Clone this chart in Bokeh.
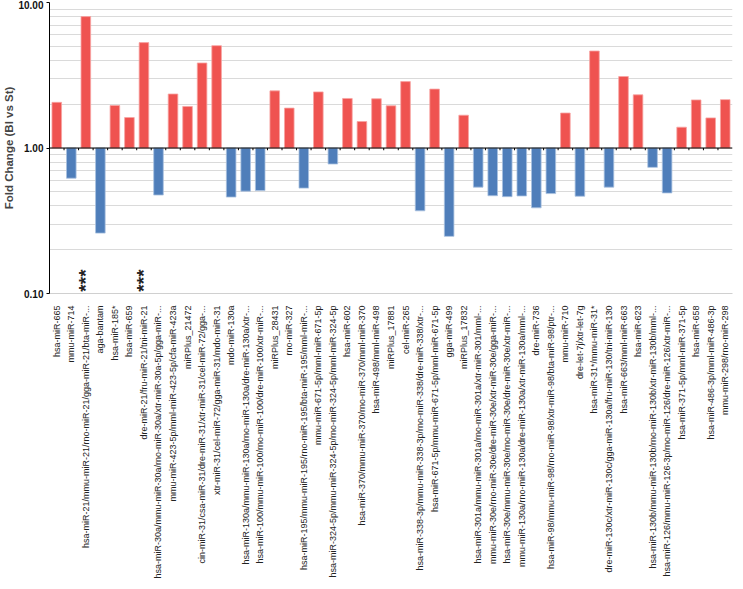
from math import pi
from bokeh.plotting import figure
from bokeh.models import FactorRange, FixedTicker, PrintfTickFormatter, ColumnDataSource, Span
from bokeh.transform import dodge
from bokeh.core.properties import value
from bokeh.embed import file_html
from bokeh.resources import INLINE

mirnas = [
    "hsa-miR-665",
    "mmu-miR-714",
    "hsa-miR-21/mmu-miR-21/rno-miR-21/gga-miR-21/bta-miR-...",
    "aga-bantam",
    "hsa-miR-185*",
    "hsa-miR-659",
    "dre-miR-21/fru-miR-21/tni-miR-21",
    "hsa-miR-30a/mmu-miR-30a/rno-miR-30a/xtr-miR-30a-5p/gga-miR-...",
    "mmu-miR-423-5p/mml-miR-423-5p/cfa-miR-423a",
    "miRPlus_21472",
    "cin-miR-31/csa-miR-31/dre-miR-31/xtr-miR-31/cel-miR-72/gga-...",
    "xtr-miR-31/cel-miR-72/gga-miR-31/mdo-miR-31",
    "mdo-miR-130a",
    "hsa-miR-130a/mmu-miR-130a/rno-miR-130a/dre-miR-130a/xtr-...",
    "hsa-miR-100/mmu-miR-100/rno-miR-100/dre-miR-100/xtr-miR-...",
    "miRPlus_28431",
    "rno-miR-327",
    "hsa-miR-195/mmu-miR-195/rno-miR-195/bta-miR-195/mml-miR-...",
    "mmu-miR-671-5p/mml-miR-671-5p",
    "hsa-miR-324-5p/mmu-miR-324-5p/rno-miR-324-5p/mml-miR-324-5p",
    "hsa-miR-602",
    "hsa-miR-370/mmu-miR-370/rno-miR-370/mml-miR-370",
    "hsa-miR-498/mml-miR-498",
    "miRPlus_17881",
    "cel-miR-265",
    "hsa-miR-338-3p/mmu-miR-338-3p/rno-miR-338/dre-miR-338/xtr-...",
    "hsa-miR-671-5p/mmu-miR-671-5p/mml-miR-671-5p",
    "gga-miR-499",
    "miRPlus_17832",
    "hsa-miR-301a/mmu-miR-301a/rno-miR-301a/xtr-miR-301/mml-...",
    "mmu-miR-30e/rno-miR-30e/dre-miR-30e/xtr-miR-30e/gga-miR-...",
    "hsa-miR-30e/mmu-miR-30e/rno-miR-30e/dre-miR-30e/xtr-miR-...",
    "mmu-miR-130a/rno-miR-130a/dre-miR-130a/xtr-miR-130a/mml-...",
    "dre-miR-736",
    "hsa-miR-98/mmu-miR-98/rno-miR-98/xtr-miR-98/bta-miR-98/ptr-...",
    "mmu-miR-710",
    "dre-let-7j/xtr-let-7g",
    "hsa-miR-31*/mmu-miR-31*",
    "dre-miR-130c/xtr-miR-130c/gga-miR-130a/fru-miR-130/tni-miR-130",
    "hsa-miR-663/mml-miR-663",
    "hsa-miR-623",
    "hsa-miR-130b/mmu-miR-130b/rno-miR-130b/xtr-miR-130b/mml-...",
    "hsa-miR-126/mmu-miR-126-3p/rno-miR-126/dre-miR-126/xtr-miR-...",
    "hsa-miR-371-5p/mml-miR-371-5p",
    "hsa-miR-658",
    "hsa-miR-486-3p/mml-miR-486-3p",
    "mmu-miR-298/rno-miR-298",
]

fold_change = [
    2.06, 0.62, 8.0, 0.26, 1.96, 1.62, 5.3, 0.475, 2.35, 1.93,
    3.84, 5.05, 0.46, 0.505, 0.51, 2.47, 1.88, 0.53, 2.43, 0.776,
    2.19, 1.52, 2.18, 1.95, 2.86, 0.37, 2.54, 0.247, 1.68, 0.538,
    0.47, 0.463, 0.468, 0.388, 0.486, 1.74, 0.466, 4.64, 0.538, 3.10,
    2.32, 0.736, 0.491, 1.39, 2.14, 1.61, 2.15,
]

star_labels = ["", "", "***", "", "", "", "***"] + [""] * 40

y_ticks = [0.1, 1, 10]
y_minor = [0.2, 0.3, 0.4, 0.5, 0.6, 0.7, 0.8, 0.9, 2, 3, 4, 5, 6, 7, 8, 9]

UP = "#EF5350"
DOWN = "#4F7EBA"
colors = [UP if v >= 1 else DOWN for v in fold_change]
lines = ["#F7A3A1" if v >= 1 else "#A9C2E0" for v in fold_change]

src = ColumnDataSource(dict(x=mirnas, top=fold_change, color=colors, lc=lines))

p = figure(
    x_range=FactorRange(*mirnas, range_padding=0),
    y_range=(0.1, 10),
    y_axis_type="log",
    width=735, height=581,
    output_backend="svg", toolbar_location=None,
    min_border_left=30, min_border_right=3, min_border_top=2, min_border_bottom=10,
)
p.outline_line_color = None
p.background_fill_color = "white"

# grid
p.xgrid.grid_line_color = None
p.ygrid.grid_line_color = "#DADADA"
p.ygrid.minor_grid_line_color = "#DADADA"
p.yaxis.ticker = FixedTicker(ticks=y_ticks, minor_ticks=y_minor)

p.vbar(x="x", top="top", bottom=1, width=0.66, source=src,
       fill_color="color", line_color="lc", line_width=0.8)

# baseline at 1 with tick marks between categories
p.add_layout(Span(location=1, dimension="width", line_color="black", line_width=1.2))
bsrc = ColumnDataSource(dict(x=mirnas[:-1]))
p.segment(x0=dodge("x", 0.5, range=p.x_range), y0=1,
          x1=dodge("x", 0.5, range=p.x_range), y1=0.965,
          source=bsrc, line_color="black", line_width=1)

# significance stars
ssrc = ColumnDataSource(dict(x=mirnas, t=star_labels))
p.text(x="x", y=0.103, text="t", source=ssrc, angle=pi / 2,
       text_align="left", text_baseline="middle",
       text_font=value("Liberation Sans"), text_font_style="bold",
       text_font_size="19px", text_color="#222222")

# y axis
p.yaxis.formatter = PrintfTickFormatter(format="%.2f")
p.yaxis.axis_label = "Fold Change (Bl vs St)"
p.yaxis.axis_label_text_font = "Liberation Sans"
p.yaxis.axis_label_text_font_style = "bold"
p.yaxis.axis_label_text_font_size = "11.5px"
p.yaxis.axis_label_standoff = 0
p.yaxis.major_label_text_font = "Liberation Sans"
p.yaxis.major_label_text_font_style = "bold"
p.yaxis.major_label_text_font_size = "10px"
p.yaxis.major_label_text_color = "#111111"
p.yaxis.axis_line_color = "black"
p.yaxis.major_tick_line_color = "black"
p.yaxis.major_tick_in = 0
p.yaxis.major_tick_out = 3
p.yaxis.minor_tick_line_color = None
p.yaxis.major_label_standoff = 2

# x axis
p.xaxis.major_label_orientation = pi / 2
p.xaxis.major_label_text_font = "Liberation Sans"
p.xaxis.major_label_text_font_size = "9px"
p.xaxis.major_label_text_color = "#222222"
p.xaxis.axis_line_color = "#D0D0D0"
p.xaxis.major_tick_line_color = None
p.xaxis.minor_tick_line_color = None
p.xaxis.major_label_standoff = 6

open("out.html", "w").write(file_html(p, INLINE))
